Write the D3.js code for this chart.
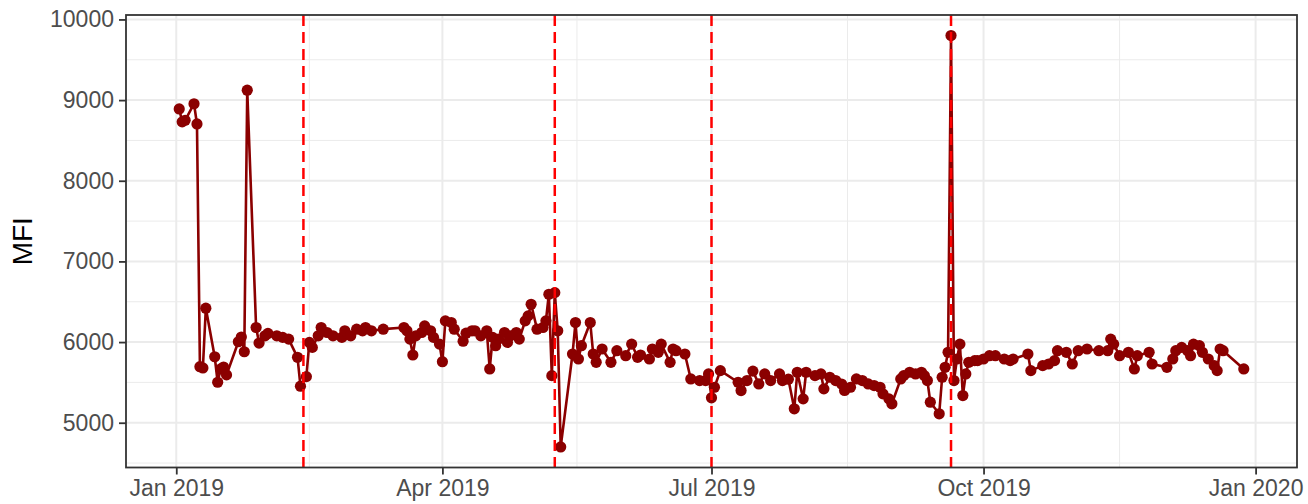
<!DOCTYPE html>
<html>
<head>
<meta charset="utf-8">
<script src="https://cdn.jsdelivr.net/npm/d3@7"></script>
<style>
  body { margin: 0; background: #fff; }
  text { font-family: "Liberation Sans", Arial, sans-serif; }
</style>
</head>
<body>
<div id="chart"></div>
<script>
// data
var dates = [
  "2019-01-02","2019-01-03","2019-01-04","2019-01-07","2019-01-08","2019-01-09","2019-01-10","2019-01-11",
  "2019-01-14","2019-01-15","2019-01-16","2019-01-17","2019-01-18","2019-01-22","2019-01-23","2019-01-24",
  "2019-01-25","2019-01-28","2019-01-29","2019-01-31","2019-02-01","2019-02-04","2019-02-06","2019-02-08",
  "2019-02-11","2019-02-12","2019-02-14","2019-02-15","2019-02-16","2019-02-18","2019-02-19","2019-02-21",
  "2019-02-23","2019-02-26","2019-02-27","2019-03-01","2019-03-03","2019-03-05","2019-03-06","2019-03-08",
  "2019-03-12","2019-03-19","2019-03-20","2019-03-21","2019-03-22","2019-03-23","2019-03-25","2019-03-26",
  "2019-03-28","2019-03-29","2019-03-31","2019-04-01","2019-04-02","2019-04-04","2019-04-05","2019-04-08",
  "2019-04-09","2019-04-11","2019-04-12","2019-04-14","2019-04-16","2019-04-17","2019-04-18","2019-04-19",
  "2019-04-20","2019-04-22","2019-04-23","2019-04-24","2019-04-26","2019-04-27","2019-04-29","2019-04-30",
  "2019-05-01","2019-05-03","2019-05-05","2019-05-06","2019-05-07","2019-05-08","2019-05-09","2019-05-10",
  "2019-05-11","2019-05-15","2019-05-16","2019-05-17","2019-05-18","2019-05-21","2019-05-22","2019-05-23",
  "2019-05-25","2019-05-28","2019-05-30","2019-06-02","2019-06-04","2019-06-06","2019-06-07","2019-06-10",
  "2019-06-11","2019-06-13","2019-06-14","2019-06-17","2019-06-18","2019-06-19","2019-06-22","2019-06-24",
  "2019-06-27","2019-06-29","2019-06-30","2019-07-01","2019-07-02","2019-07-04","2019-07-10","2019-07-11",
  "2019-07-13","2019-07-15","2019-07-17","2019-07-19","2019-07-21","2019-07-24","2019-07-25","2019-07-27",
  "2019-07-29","2019-07-30","2019-08-01","2019-08-02","2019-08-05","2019-08-07","2019-08-08","2019-08-10",
  "2019-08-12","2019-08-14","2019-08-15","2019-08-17","2019-08-19","2019-08-21","2019-08-23","2019-08-25",
  "2019-08-27","2019-08-28","2019-08-30","2019-08-31","2019-09-03","2019-09-04","2019-09-06","2019-09-08",
  "2019-09-10","2019-09-11","2019-09-12","2019-09-13","2019-09-16","2019-09-17","2019-09-18","2019-09-19",
  "2019-09-20","2019-09-21","2019-09-22","2019-09-23","2019-09-24","2019-09-25","2019-09-26","2019-09-28",
  "2019-09-29","2019-10-01","2019-10-03","2019-10-05","2019-10-08","2019-10-10","2019-10-11","2019-10-16",
  "2019-10-17","2019-10-21","2019-10-23","2019-10-25","2019-10-26","2019-10-29","2019-10-31","2019-11-02",
  "2019-11-05","2019-11-09","2019-11-12","2019-11-13","2019-11-14","2019-11-16","2019-11-19","2019-11-21",
  "2019-11-22","2019-11-26","2019-11-27","2019-12-02","2019-12-04","2019-12-05","2019-12-07","2019-12-09",
  "2019-12-10","2019-12-11","2019-12-13","2019-12-14","2019-12-16","2019-12-18","2019-12-19","2019-12-20",
  "2019-12-21","2019-12-28"
];
var mfi = [
  8890,8730,8750,8955,8704,5695,5679,6420,
  5818,5502,5667,5691,5593,6004,6062,5880,
  9123,6181,5988,6078,6107,6078,6058,6037,
  5811,5453,5572,5996,5934,6078,6181,6119,
  6078,6058,6140,6078,6160,6140,6181,6140,
  6160,6181,6140,6037,5840,6078,6119,6201,
  6140,6058,5975,5757,6263,6242,6160,6010,
  6110,6140,6140,6078,6140,5667,6058,5955,
  6037,6119,5996,6078,6119,6037,6263,6325,
  6469,6160,6181,6263,6593,5584,6613,6140,
  4700,5852,6242,5790,5955,6242,5852,5749,
  5914,5749,5893,5831,5975,5811,5840,5790,
  5914,5873,5975,5749,5914,5893,5852,5543,
  5523,5523,5605,5309,5440,5646,5502,5399,
  5523,5640,5481,5605,5523,5605,5523,5540,
  5173,5626,5296,5626,5584,5605,5420,5564,
  5523,5480,5400,5440,5543,5523,5481,5461,
  5440,5358,5296,5235,5543,5584,5626,5605,
  5626,5584,5523,5255,5111,5564,5687,5873,
  9800,5523,5790,5975,5337,5605,5749,5770,
  5770,5790,5831,5831,5790,5770,5790,5852,
  5646,5708,5728,5770,5893,5873,5728,5893,
  5914,5893,5893,6037,5975,5831,5873,5667,
  5831,5873,5728,5687,5790,5893,5934,5893,
  5831,5975,5955,5873,5790,5708,5646,5914,
  5893,5667
];
var eventDates = ["2019-02-13","2019-05-09","2019-07-01","2019-09-20"];
var xTicks = ["2019-01-01","2019-04-01","2019-07-01","2019-10-01","2020-01-01"];
var xTickLabels = ["Jan 2019","Apr 2019","Jul 2019","Oct 2019","Jan 2020"];
var yTicks = [5000,6000,7000,8000,9000,10000];
var yMinor = [4500,5500,6500,7500,8500,9500];

var width = 1308, height = 504;
var pLeft = 126, pRight = 1297, pTop = 15, pBottom = 467.5;

var parse = d3.timeParse("%Y-%m-%d");
var points = dates.map(function(d, i) { return {date: parse(d), value: mfi[i]}; });

var svg = d3.select("#chart").append("svg")
  .attr("width", width)
  .attr("height", height);

// ggplot style 5% expansion
var xe = d3.extent(points, function(d) { return d.date; });
var xs = xe[1] - xe[0];
var x = d3.scaleTime()
  .domain([new Date(+xe[0] - 0.05 * xs), new Date(+xe[1] + 0.05 * xs)])
  .range([pLeft, pRight]);

var ye = d3.extent(mfi);
var ys = ye[1] - ye[0];
var y = d3.scaleLinear()
  .domain([ye[0] - 0.05 * ys, ye[1] + 0.05 * ys])
  .range([pBottom, pTop]);

var xMajor = xTicks.map(parse);
var xMinor = [];
for (var i = 0; i < xMajor.length - 1; i++) {
  xMinor.push(new Date((+xMajor[i] + +xMajor[i + 1]) / 2));
}

var grid = svg.append("g");
grid.selectAll(".ymin").data(yMinor).enter().append("line")
  .attr("x1", pLeft).attr("x2", pRight)
  .attr("y1", function(d) { return y(d); }).attr("y2", function(d) { return y(d); })
  .attr("stroke", "#ebebeb").attr("stroke-width", 1);
grid.selectAll(".xmin").data(xMinor).enter().append("line")
  .attr("y1", pTop).attr("y2", pBottom)
  .attr("x1", function(d) { return x(d); }).attr("x2", function(d) { return x(d); })
  .attr("stroke", "#ebebeb").attr("stroke-width", 1);
grid.selectAll(".ymaj").data(yTicks).enter().append("line")
  .attr("x1", pLeft).attr("x2", pRight)
  .attr("y1", function(d) { return y(d); }).attr("y2", function(d) { return y(d); })
  .attr("stroke", "#ebebeb").attr("stroke-width", 2);
grid.selectAll(".xmaj").data(xMajor).enter().append("line")
  .attr("y1", pTop).attr("y2", pBottom)
  .attr("x1", function(d) { return x(d); }).attr("x2", function(d) { return x(d); })
  .attr("stroke", "#ebebeb").attr("stroke-width", 2);

var line = d3.line()
  .x(function(d) { return x(d.date); })
  .y(function(d) { return y(d.value); });

svg.append("path")
  .datum(points)
  .attr("d", line)
  .attr("fill", "none")
  .attr("stroke", "#8b0000")
  .attr("stroke-width", 2.6)
  .attr("stroke-linejoin", "round");

svg.selectAll(".dot").data(points).enter().append("circle")
  .attr("cx", function(d) { return x(d.date); })
  .attr("cy", function(d) { return y(d.value); })
  .attr("r", 5.6)
  .attr("fill", "#8b0000");

svg.selectAll(".event").data(eventDates.map(parse)).enter().append("line")
  .attr("x1", function(d) { return x(d); }).attr("x2", function(d) { return x(d); })
  .attr("y1", pTop).attr("y2", pBottom)
  .attr("stroke", "#ff0000")
  .attr("stroke-width", 2.5)
  .attr("stroke-dasharray", "11,6");

svg.append("rect")
  .attr("x", pLeft).attr("y", pTop)
  .attr("width", pRight - pLeft).attr("height", pBottom - pTop)
  .attr("fill", "none")
  .attr("stroke", "#333333")
  .attr("stroke-width", 1.8);

var yAxis = svg.append("g")
  .attr("transform", "translate(" + pLeft + ",0)")
  .call(d3.axisLeft(y).tickValues(yTicks).tickFormat(d3.format("d"))
    .tickSize(7).tickPadding(5));
var xAxis = svg.append("g")
  .attr("transform", "translate(0," + pBottom + ")")
  .call(d3.axisBottom(x).tickValues(xMajor)
    .tickFormat(function(d, i) { return xTickLabels[i]; })
    .tickSize(7).tickPadding(5));

[yAxis, xAxis].forEach(function(a) {
  a.select(".domain").remove();
  a.selectAll(".tick line").attr("stroke", "#333333").attr("stroke-width", 1.8);
  a.selectAll(".tick text").attr("fill", "#4d4d4d").style("font-size", "23px");
});

svg.append("text")
  .attr("transform", "translate(32," + ((pTop + pBottom) / 2) + ") rotate(-90)")
  .attr("text-anchor", "middle")
  .style("font-size", "28px")
  .attr("fill", "#000")
  .text("MFI");
</script>
</body>
</html>
